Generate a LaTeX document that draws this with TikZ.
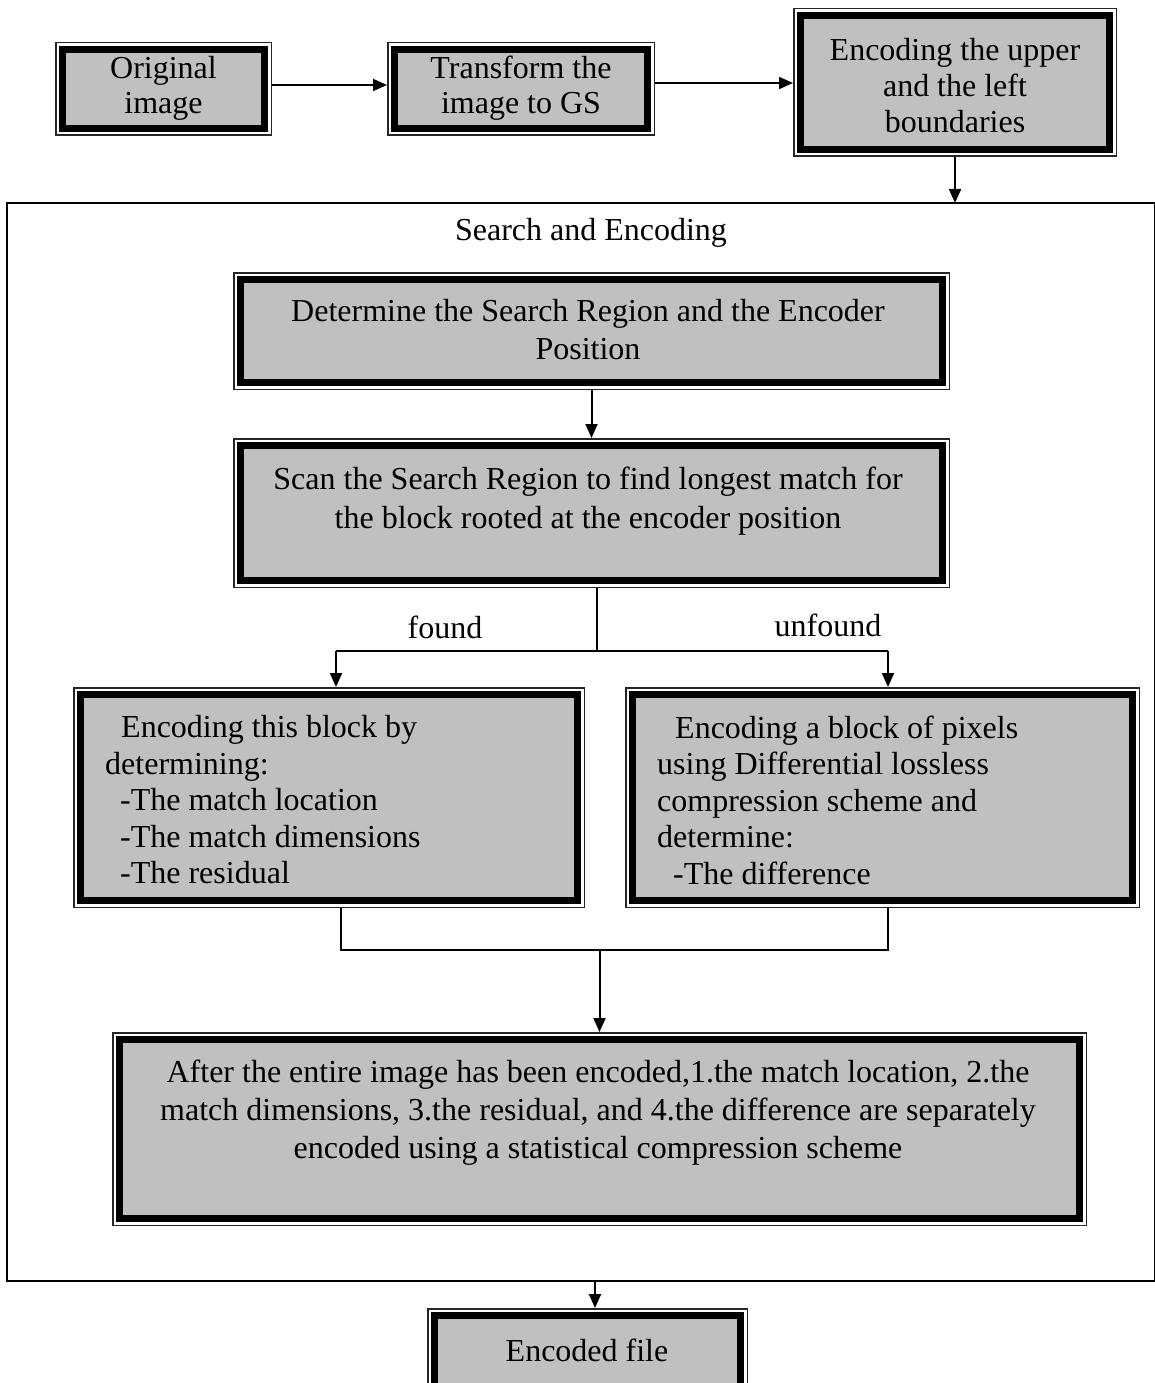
\documentclass[tikz,border=0pt]{standalone}
\usepackage{fontspec}
\setmainfont{Liberation Serif}
\usetikzlibrary{arrows.meta}
\definecolor{boxgray}{HTML}{C0C0C0}
\tikzset{
  dbox/.style={rectangle, fill=boxgray, draw=black, line width=7pt, outer sep=7.5pt, inner sep=0pt,
    preaction={draw=black!85, line width=15pt},
    preaction={draw=white, line width=12pt}},
  txt/.style={inner sep=0pt, font=\fontsize{32}{36}\selectfont, align=center},
  arr/.style={line width=2pt, -{Triangle[length=14pt,width=12pt]}},
  ln/.style={line width=1.5pt}
}
\begin{document}
\begin{tikzpicture}[x=1pt,y=-1pt]
\clip (0,0) rectangle (1155,1383);
\fill[white] (0,0) rectangle (1155,1383);
% outer frame
\node[draw=black, line width=2.2pt, minimum width=1148pt, minimum height=1078pt, inner sep=0pt, outer sep=0pt] (frame) at (581,742) {};
% boxes
\node[dbox, minimum width=202pt, minimum height=79pt] (b1) at (163.5,89) {};
\node[dbox, minimum width=253pt, minimum height=79pt] (b2) at (521,89) {};
\node[dbox, minimum width=309pt, minimum height=134pt] (b3) at (955,82.5) {};
\node[dbox, minimum width=702pt, minimum height=103pt] (det) at (591.5,331) {};
\node[dbox, minimum width=702pt, minimum height=135pt] (scan) at (591.5,513) {};
\node[dbox, minimum width=497pt, minimum height=206pt] (lft) at (329,797.5) {};
\node[dbox, minimum width=500pt, minimum height=206pt] (rgt) at (882.5,797.5) {};
\node[dbox, minimum width=960pt, minimum height=179pt] (bot) at (599.5,1129) {};
\node[dbox, minimum width=306pt, minimum height=72pt] (enc) at (587.5,1351.5) {};
% texts
\node[txt, font=\fontsize{32}{35}\selectfont] (t1) at (163.5,88) {Original\\image};
\node[txt, font=\fontsize{32}{35}\selectfont] (t2) at (521,88) {Transform the\\image to GS};
\node[txt] (t3) at (955,86) {Encoding the upper\\and the left\\boundaries};
\node[txt] (tse) at (591,233) {Search and Encoding};
\node[txt, font=\fontsize{32}{38}\selectfont] (t4) at (588,330) {Determine the Search Region and the Encoder\\Position};
\node[txt, font=\fontsize{32}{39}\selectfont] (t5) at (588,501) {Scan the Search Region to find longest match for\\the block rooted at the encoder position};
\node[txt] (tf) at (445,627) {found};
\node[txt] (tu) at (828,625) {unfound};
\node[txt, align=left, anchor=west, font=\fontsize{32}{36.5}\selectfont] (tl) at (105,800) {\hspace{16pt}Encoding this block by\\determining:\\\hspace{15pt}-The match location\\\hspace{15pt}-The match dimensions\\\hspace{15pt}-The residual};
\node[txt, align=left, anchor=west, font=\fontsize{32}{36.5}\selectfont] (tr) at (657,800) {\hspace{18pt}Encoding a block of pixels\\using Differential lossless\\compression scheme and\\determine:\\\hspace{16pt}-The difference};
\node[txt, font=\fontsize{32}{38}\selectfont] (tb) at (598,1113) {After the entire image has been encoded,1.the match location, 2.the\\match dimensions, 3.the residual, and 4.the difference are separately\\encoded using a statistical compression scheme};
\node[txt] (te) at (587,1350) {Encoded file};
% connectors
\draw[arr] (b1.east |- 0,85) -- (b2.west |- 0,85);
\draw[arr] (b2.east |- 0,83) -- (b3.west |- 0,83);
\draw[arr] (b3.south) -- (b3.south |- frame.north);
\draw[arr] (det.south) -- (scan.north);
\coordinate (sp) at (597,651);
\coordinate (fa) at (336,651);
\coordinate (fb) at (888,651);
\draw[ln] (sp |- scan.south) -- (sp);
\draw[ln] (fa) -- (fb);
\draw[arr] (fa) -- (fa |- lft.north);
\draw[arr] (fb) -- (fb |- rgt.north);
\coordinate (ja) at (341,950);
\coordinate (jb) at (888,950);
\draw[ln] (ja |- lft.south) -- (ja) -- (jb) -- (jb |- rgt.south);
\draw[arr] (ja -| bot.north) -- (bot.north);
\coordinate (ea) at (595,1281);
\draw[arr] (ea) -- (ea |- enc.north);
\end{tikzpicture}
\end{document}
